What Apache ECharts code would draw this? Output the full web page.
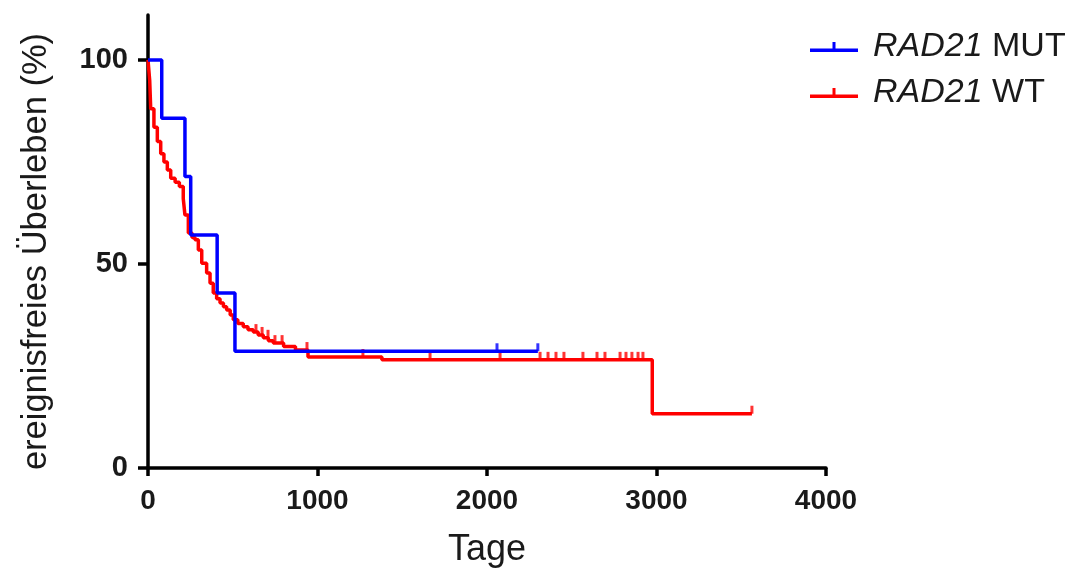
<!DOCTYPE html>
<html>
<head>
<meta charset="utf-8">
<script src="https://cdn.jsdelivr.net/npm/echarts@6/dist/echarts.min.js"></script>
<style>
  html, body { margin: 0; padding: 0; background: #fff; }
  #chart { width: 1077px; height: 570px; }
</style>
</head>
<body>
<div id="chart"></div>
<script>
// Kaplan-Meier Kurven, Tage vs. ereignisfreies Ueberleben (%)
const mutDays = [0, 81, 218, 252, 408, 513, 2300]
const mutSurv = [100, 85.7, 71.4, 57.1, 42.9, 28.6, 28.6]
const mutCensored = [2059, 2300]

const wtDays = [0, 10, 16, 35, 55, 75, 94, 114, 134, 160, 185, 208, 218, 238, 260, 277, 297, 317, 346, 366,
  385, 405, 425, 445, 464, 485, 503, 530, 562, 590, 621, 650, 680, 710, 739, 800, 870, 944, 1380, 2975, 3563]
const wtSurv = [100, 95, 88, 83.5, 80, 77, 75, 73, 71, 70, 69, 66, 62, 57.6, 56.5, 55.9, 53.4, 50.2, 47.8, 45.3,
  42.9, 41.5, 40.4, 39.5, 38.7, 37.5, 36.3, 35.4, 34.6, 33.9, 33.3, 32.6, 31.9, 31.2, 30.6, 29.8, 28.9, 27.2, 26.5, 13.3, 13.3]
const wtCensored = [637, 673, 708, 749, 791, 938, 1268, 1664, 2077, 2313, 2360, 2407, 2454, 2566, 2649,
  2696, 2785, 2820, 2855, 2891, 2920, 3563]

const xTicks = [0, 1000, 2000, 3000, 4000]
const yTicks = [0, 50, 100]

// Wert der Treppenfunktion zum Zeitpunkt t
function survAt (days, surv, t) {
  let v = surv[0]
  for (let i = 0; i < days.length; i++) {
    if (days[i] <= t) v = surv[i]
  }
  return v
}

const pairs = (xs, ys) => xs.map((x, i) => [x, ys[i]])
const censorPts = (c, days, surv) => c.map(t => [t, survAt(days, surv, t)])

const BLUE = '#0000ff'
const RED = '#ff0000'
const FONT = '"Liberation Sans", Arial, sans-serif'
const tickIcon = 'path://M0,10.5 L48,10.5 L48,14 L0,14 Z M22.5,4 L25.5,4 L25.5,11 L22.5,11 Z'

let myChart = echarts.init(document.getElementById('chart'), null, { renderer: 'canvas' })

myChart.setOption({
  animation: false,
  textStyle: { fontFamily: FONT },
  grid: { left: 148, right: 251, top: 15, bottom: 102, containLabel: false, outerBoundsMode: 'none' },
  legend: {
    left: 805,
    top: 25,
    orient: 'vertical',
    itemWidth: 48,
    itemHeight: 14,
    itemGap: 12,
    data: [
      { name: 'MUT', icon: tickIcon },
      { name: 'WT', icon: tickIcon }
    ],
    formatter: name => '{i|RAD21} ' + name,
    textStyle: {
      color: '#1a1a1a',
      fontSize: 34,
      fontFamily: FONT,
      padding: [0, 0, 0, 10],
      rich: {
        i: { fontStyle: 'italic', fontSize: 34, color: '#1a1a1a', fontFamily: FONT }
      }
    }
  },
  xAxis: {
    type: 'value',
    min: 0,
    max: 4000,
    interval: 1000,
    name: 'Tage',
    nameLocation: 'middle',
    nameGap: 64,
    nameTextStyle: { fontSize: 36, color: '#1a1a1a' },
    splitLine: { show: false },
    axisLine: { onZero: false, lineStyle: { color: '#000', width: 3.5 } },
    axisTick: { length: 8, lineStyle: { color: '#000', width: 3.5 } },
    axisLabel: {
      customValues: xTicks,
      formatter: v => String(v),
      fontSize: 28,
      fontWeight: 'bold',
      color: '#1a1a1a',
      margin: 19
    }
  },
  yAxis: {
    type: 'value',
    min: 0,
    max: 111,
    name: 'ereignisfreies Überleben (%)',
    nameLocation: 'middle',
    nameGap: 94,
    nameTextStyle: { fontSize: 34.5, color: '#1a1a1a', padding: [0, 20, 0, 0] },
    splitLine: { show: false },
    axisLine: { onZero: false, lineStyle: { color: '#000', width: 3.5 } },
    axisTick: { customValues: yTicks, length: 10, lineStyle: { color: '#000', width: 3.5 } },
    axisLabel: {
      customValues: yTicks,
      formatter: v => String(v),
      fontSize: 29,
      fontWeight: 'bold',
      color: '#1a1a1a',
      margin: 20
    }
  },
  series: [
    {
      name: 'WT',
      type: 'line',
      step: 'end',
      data: pairs(wtDays, wtSurv),
      showSymbol: false,
      color: RED,
      lineStyle: { color: RED, width: 3.5 },
      z: 2
    },
    {
      name: 'WT',
      type: 'scatter',
      data: censorPts(wtCensored, wtDays, wtSurv),
      symbol: 'rect',
      symbolSize: [3, 8],
      symbolOffset: [0, -4],
      itemStyle: { color: RED },
      z: 2
    },
    {
      name: 'MUT',
      type: 'line',
      step: 'end',
      data: pairs(mutDays, mutSurv),
      showSymbol: false,
      color: BLUE,
      lineStyle: { color: BLUE, width: 3.5 },
      z: 3
    },
    {
      name: 'MUT',
      type: 'scatter',
      data: censorPts(mutCensored, mutDays, mutSurv),
      symbol: 'rect',
      symbolSize: [3, 8],
      symbolOffset: [0, -4],
      itemStyle: { color: BLUE },
      z: 3
    }
  ]
})
</script>
</body>
</html>
